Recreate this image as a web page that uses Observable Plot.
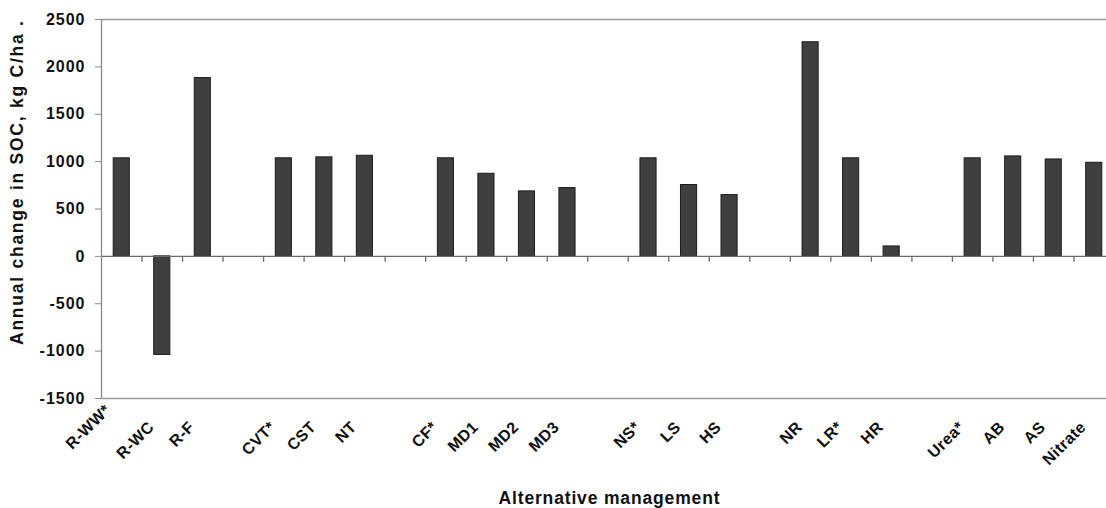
<!DOCTYPE html>
<html>
<head>
<meta charset="utf-8">
<script src="https://cdn.jsdelivr.net/npm/d3@7"></script>
<script src="https://cdn.jsdelivr.net/npm/@observablehq/plot@0.6"></script>
<style>
  html, body { margin: 0; padding: 0; background: #fff; overflow: hidden; }
  svg { overflow: hidden; }
</style>
</head>
<body>
<div id="chart"></div>
<script>
// Categories ("" = empty spacer slot between groups)
const categories = ["R-WW*","R-WC","R-F","","CVT*","CST","NT","","CF*","MD1","MD2","MD3","","NS*","LS","HS","","NR","LR*","HR","","Urea*","AB","AS","Nitrate"];
// Annual change in SOC, kg C/ha (null for spacer slots)
const values = [1035,-1040,1882,null,1035,1045,1062,null,1035,872,686,721,null,1035,753,647,null,2260,1035,105,null,1035,1055,1023,988];
const yTicks = [-1500,-1000,-500,0,500,1000,1500,2000,2500];
const yTitle = "Annual change in SOC, kg C/ha .";
const xTitle = "Alternative management";

const rows = categories.map((c, i) => ({i, label: c, value: values[i]}));
const bars = rows.filter(d => d.value != null);
const labelled = rows.filter(d => d.label !== "");
const boundaries = d3.range(1, categories.length + 1);
const font = "'Liberation Sans', Arial, Helvetica, sans-serif";

const labelOpts = {
  x: d => d.i + 0.5, frameAnchor: "bottom", text: "label",
  rotate: -45, textAnchor: "end", lineAnchor: "middle",
  fontSize: 16, fontWeight: "bold", fill: "#111"
};

const chart = Plot.plot({
  width: 1106,
  height: 508,
  marginLeft: 101,
  marginRight: 0,
  marginTop: 19,
  marginBottom: 110,
  style: {fontFamily: font, background: "#fff", color: "#111"},
  x: {domain: [0, categories.length], range: [101, 1114], axis: null},
  y: {domain: [-1500, 2500], axis: null},
  marks: [
    // plot area top/bottom borders
    Plot.ruleY([yTicks[0], yTicks[yTicks.length - 1]], {stroke: "#9a9a9a", strokeWidth: 1.5}),
    // bars
    Plot.rectY(bars, {x1: d => d.i, x2: d => d.i + 1, y: "value", insetLeft: 12.2, insetRight: 12.2, fill: "#3f3f3f", stroke: "#1c1c1c", strokeWidth: 1}),
    // zero line
    Plot.ruleY([0], {stroke: "#6a6a6a", strokeWidth: 1.3}),
    // category boundary ticks hanging from the zero line
    Plot.ruleX(boundaries, {x: d => d, y1: 0, y2: -62, stroke: "#6a6a6a", strokeWidth: 1.3}),
    // y axis line
    Plot.ruleX([0], {y1: yTicks[0], y2: yTicks[yTicks.length - 1], stroke: "#8a8a8a", strokeWidth: 1.3}),
    Plot.axisY({ticks: yTicks, tickSize: 6, tickPadding: 10, stroke: "#8a8a8a", fontSize: 16, fontWeight: "bold", fill: "#111", label: null, tickFormat: d => String(d)}),
    // x category labels
    Plot.text(labelled.slice(1), {...labelOpts, dx: -11, dy: 26}),
    Plot.text(labelled.slice(0, 1), {...labelOpts, dx: -14, dy: 9}),
    // axis titles
    Plot.text([xTitle], {frameAnchor: "bottom", text: d => d, dx: 5, dy: 105, fontSize: 17.5, fontWeight: "bold", fill: "#111"}),
    Plot.text([yTitle], {frameAnchor: "left", textAnchor: "middle", text: d => d, rotate: -90, dx: -84, dy: -26, fontSize: 17.5, fontWeight: "bold", fill: "#111"})
  ]
});

// typographic tweaks: the reference lettering is slightly wider than Arial bold
const textGroups = chart.querySelectorAll('g[aria-label="text"]');
if (textGroups.length >= 4) {
  textGroups[0].style.letterSpacing = "0.4px";
  textGroups[1].style.letterSpacing = "0.4px";
  const xt = textGroups[2].querySelector("text");
  xt.setAttribute("textLength", 221); xt.setAttribute("lengthAdjust", "spacing");
  const yt = textGroups[3].querySelector("text");
  yt.setAttribute("textLength", 324); yt.setAttribute("lengthAdjust", "spacing");
}
const yLab = chart.querySelector('g[aria-label="y-axis tick label"]');
if (yLab) yLab.style.letterSpacing = "1px";

document.getElementById("chart").appendChild(chart);
</script>
</body>
</html>
